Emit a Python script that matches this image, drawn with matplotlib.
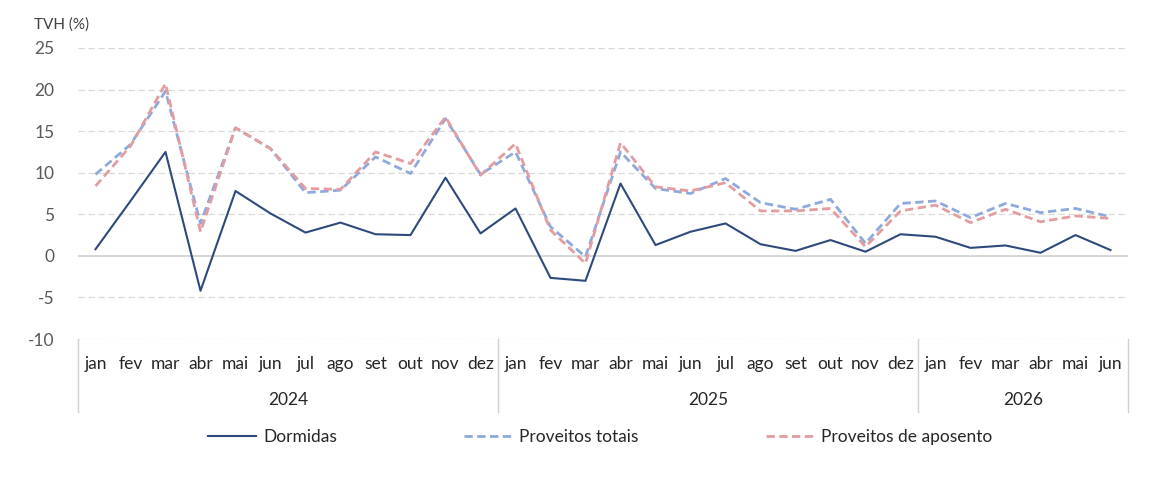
import matplotlib
matplotlib.use("Agg")
import matplotlib.pyplot as plt
from matplotlib.lines import Line2D
import matplotlib.transforms as mtransforms

plt.rcParams['font.family'] = ['Lato', 'DejaVu Sans']

months = ["jan", "fev", "mar", "abr", "mai", "jun", "jul", "ago", "set", "out", "nov", "dez"]
years = ["2024", "2025", "2026"]
month_labels = months + months + months[:6]

dormidas = [0.8, 6.6, 12.5, -4.2, 7.8, 5.1, 2.8, 4.0, 2.6, 2.5, 9.4, 2.7,
            5.7, -2.65, -3.0, 8.7, 1.3, 2.9, 3.9, 1.4, 0.6, 1.9, 0.5, 2.6,
            2.3, 0.96, 1.25, 0.37, 2.5, 0.7]
proveitos_totais = [9.8, 13.4, 19.8, 3.9, 15.4, 12.9, 7.6, 7.9, 11.9, 9.9, 16.5, 9.8,
                    12.5, 3.5, -0.1, 12.5, 8.1, 7.5, 9.3, 6.4, 5.6, 6.8, 1.5, 6.3,
                    6.6, 4.6, 6.3, 5.2, 5.7, 4.7]
proveitos_aposento = [8.4, 13.2, 20.7, 2.9, 15.4, 12.9, 8.1, 8.0, 12.5, 11.1, 16.7, 9.7,
                      13.5, 3.1, -0.9, 13.6, 8.3, 7.8, 8.8, 5.4, 5.4, 5.7, 1.1, 5.4,
                      6.1, 4.0, 5.6, 4.1, 4.8, 4.5]
yticks = [-10, -5, 0, 5, 10, 15, 20, 25]

W, H = 1170, 492
fig = plt.figure(figsize=(W / 100, H / 100), dpi=100)
ax = fig.add_axes([78 / W, 1 - 339 / H, 1050 / W, 291 / H])

x = list(range(len(dormidas)))
ax.plot(x, dormidas, color="#2E4A7D", lw=1.5, label="Dormidas", zorder=3)
ax.plot(x, proveitos_totais, color="#8EA9DB", lw=2.0, linestyle=(0, (3.0, 1.6)),
        label="Proveitos totais", zorder=4)
ax.plot(x, proveitos_aposento, color="#E39C9F", lw=2.0, linestyle=(0, (3.0, 1.6)),
        label="Proveitos de aposento", zorder=5)

ax.set_xlim(-0.5, len(x) - 0.5)
ax.set_ylim(-10, 25)
for s in ax.spines.values():
    s.set_visible(False)

for v in yticks:
    if v == 0:
        ax.axhline(v, color="#D0D0D0", lw=1.2, zorder=1)
    else:
        ax.axhline(v, color="#D9D9D9", lw=0.9, linestyle=(0, (5, 3)), zorder=1)

ax.set_yticks(yticks)
ax.set_yticklabels([str(v) for v in yticks], fontsize=12.5, color="#595959")
ax.tick_params(axis="y", length=0, pad=17)

ax.set_xticks(x)
ax.set_xticklabels(month_labels, fontsize=12.5, color="#262626")
ax.tick_params(axis="x", length=0, pad=12)

trans = mtransforms.blended_transform_factory(ax.transData, ax.transAxes)
bottom = -(412 - 339) / 291
for b in [-0.5, 11.5, 23.5, len(x) - 0.5]:
    ax.add_line(Line2D([b, b], [0, bottom], transform=trans, color="#D0D0D0",
                       lw=1.0, clip_on=False))

year_starts = [0, 12, 24]
year_ends = [11, 23, len(x) - 1]
for yr, s, e in zip(years, year_starts, year_ends):
    ax.text((s + e) / 2, -(400 - 339) / 291, yr, transform=trans, ha="center",
            va="center", fontsize=12.5, color="#262626")

fig.text(34 / W, 1 - 25 / H, "TVH (%)", fontsize=11, color="#404040",
         ha="left", va="center")

fig.legend(loc="center", bbox_to_anchor=(600 / W, 1 - 437 / H), ncol=3,
           frameon=False, fontsize=12.5, handlelength=2.8, columnspacing=7.3,
           handletextpad=0.4, labelcolor="#262626")

fig.savefig("out.png", dpi=100, facecolor="white")
